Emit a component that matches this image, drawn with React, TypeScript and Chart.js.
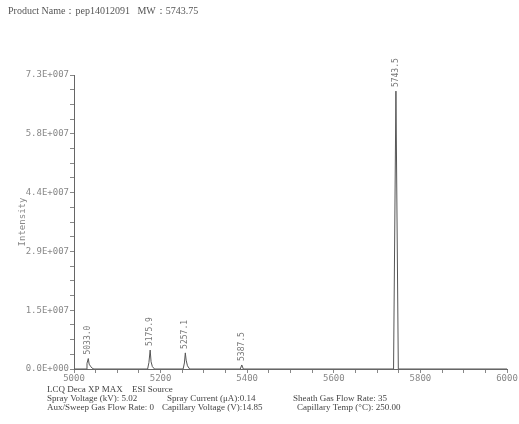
import React, { useEffect, useRef } from 'react';
import { Chart, registerables } from 'chart.js';

Chart.register(...registerables);

const titleText = 'Product Name：pep14012091   MW：5743.75';

// spectrum profile (m/z, intensity)
const profileMz = [
  5000, 5028, 5030, 5033.0, 5035, 5038, 5042, 5046,
  5170, 5173, 5175.9, 5178, 5181, 5186,
  5252, 5255, 5257.1, 5259, 5262, 5267,
  5384, 5387.5, 5391,
  5738, 5743.5, 5749,
  6000,
];
const profileIntensity = [
  0, 0, 1.4e6, 2.6e6, 1.2e6, 0.7e6, 0.2e6, 0,
  0, 1.6e6, 4.7e6, 1.8e6, 0.6e6, 0,
  0, 1.5e6, 4.0e6, 2.2e6, 0.8e6, 0,
  0, 1.0e6, 0,
  0, 6.9e7, 0,
  0,
];

// peak annotations
const peakMz = [5033.0, 5175.9, 5257.1, 5387.5, 5743.5];
const peakIntensity = [2.6e6, 4.7e6, 4.0e6, 1.0e6, 6.9e7];
const peakLabels = ['5033.0', '5175.9', '5257.1', '5387.5', '5743.5'];

const xTickStep = 50;
const xLabelEvery = 200;
const yMax = 7.3e7;
const yTickStep = 3.65e6;
const yTickLabels = ['0.0E+000', '1.5E+007', '2.9E+007', '4.4E+007', '5.8E+007', '7.3E+007'];

const footerRows: { text: string; x: number; y: number }[][] = [
  [
    { text: 'LCQ Deca XP MAX', x: 47, y: 390 },
    { text: 'ESI Source', x: 132, y: 390 },
  ],
  [
    { text: 'Spray Voltage (kV): 5.02', x: 47, y: 399 },
    { text: 'Spray Current (μA):0.14', x: 167, y: 399 },
    { text: 'Sheath Gas Flow Rate: 35', x: 293, y: 399 },
  ],
  [
    { text: 'Aux/Sweep Gas Flow Rate: 0', x: 47, y: 408 },
    { text: 'Capillary Voltage (V):14.85', x: 162, y: 408 },
    { text: 'Capillary Temp (°C): 250.00', x: 297, y: 408 },
  ],
];

const monoFont = '"DejaVu Sans Mono", monospace';
const serifFont = '"Liberation Serif", "Times New Roman", serif';

const textPlugin = {
  id: 'textPlugin',
  afterDraw(chart: any) {
    const ctx = chart.ctx as CanvasRenderingContext2D;
    const xs = chart.scales.x;
    const ys = chart.scales.y;
    ctx.save();
    // title
    ctx.fillStyle = '#555';
    ctx.font = `10px ${serifFont}`;
    ctx.textAlign = 'left';
    ctx.textBaseline = 'middle';
    ctx.fillText(titleText, 8, 11);
    // footer
    ctx.font = `9px ${serifFont}`;
    ctx.fillStyle = '#444';
    for (const row of footerRows) {
      for (const cell of row) ctx.fillText(cell.text, cell.x, cell.y);
    }
    // peak labels
    ctx.fillStyle = '#777';
    ctx.font = `8px ${monoFont}`;
    peakMz.forEach((mz, i) => {
      const px = xs.getPixelForValue(mz);
      const py = ys.getPixelForValue(peakIntensity[i]) - 4;
      ctx.save();
      ctx.translate(px, py);
      ctx.rotate(-Math.PI / 2);
      ctx.textAlign = 'left';
      ctx.textBaseline = 'middle';
      ctx.fillText(peakLabels[i], 0, 0);
      ctx.restore();
    });
    ctx.restore();
  },
};

export default function App() {
  const ref = useRef<HTMLCanvasElement | null>(null);
  useEffect(() => {
    if (!ref.current) return;
    const chart = new Chart(ref.current, {
      type: 'line',
      data: {
        datasets: [
          {
            data: profileMz.map((x, i) => ({ x, y: profileIntensity[i] })),
            borderColor: '#555',
            borderWidth: 1,
            pointRadius: 0,
            tension: 0,
            fill: false,
          },
        ],
      },
      options: {
        animation: false,
        responsive: false,
        layout: { padding: { top: 75, left: 0, right: 12, bottom: 0 } },
        plugins: { legend: { display: false }, tooltip: { enabled: false } },
        scales: {
          x: {
            type: 'linear',
            min: 5000,
            max: 6000,
            afterFit: (s: any) => { s.height = 55; },
            ticks: {
              stepSize: xTickStep,
              autoSkip: false,
              maxRotation: 0,
              padding: 0,
              color: '#888',
              font: { family: monoFont, size: 9 },
              callback: (v: any) => (Number(v) % xLabelEvery === 0 ? String(v) : ''),
            },
            grid: { display: true, drawOnChartArea: false, drawTicks: true, tickLength: 4, color: '#888' },
            border: { display: true, color: '#666' },
          },
          y: {
            min: 0,
            max: yMax,
            afterFit: (s: any) => { s.width = 74; },
            ticks: {
              stepSize: yTickStep,
              autoSkip: false,
              padding: 1,
              color: '#888',
              font: { family: monoFont, size: 9 },
              callback: (_v: any, idx: number) => (idx % 4 === 0 ? yTickLabels[idx / 4] : ''),
            },
            grid: { display: true, drawOnChartArea: false, drawTicks: true, tickLength: 4, color: '#888' },
            border: { display: true, color: '#666' },
            title: {
              display: true,
              text: 'Intensity',
              color: '#888',
              font: { family: monoFont, size: 9 },
              padding: { top: 17, bottom: 0 },
            },
          },
        },
      },
      plugins: [textPlugin],
    });
    return () => chart.destroy();
  }, []);
  return (
    <canvas
      ref={ref}
      width={519}
      height={424}
      style={{ position: 'absolute', left: 0, top: 0, display: 'block', background: '#fff' }}
    />
  );
}
